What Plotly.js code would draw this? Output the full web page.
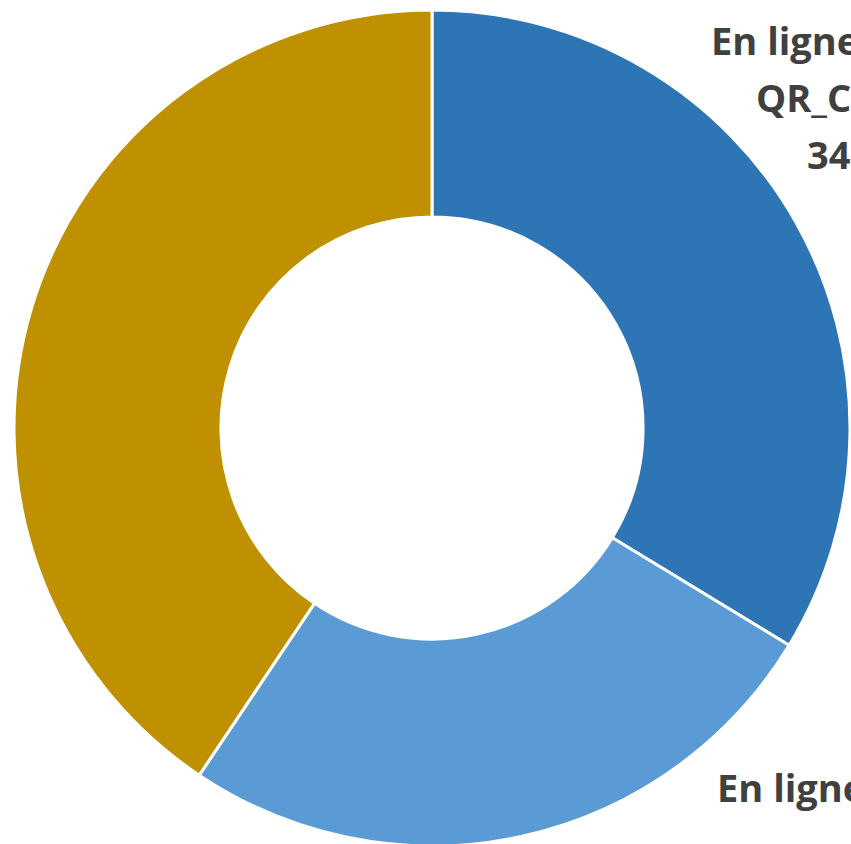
<!DOCTYPE html>
<html>
<head>
<meta charset="utf-8">
<script src="https://cdn.plot.ly/plotly-3.0.1.min.js"></script>
<style>
  html, body { margin: 0; padding: 0; overflow: hidden; background: #ffffff; }
  #chart { width: 851px; height: 860px; }
</style>
</head>
<body>
<div id="chart"></div>
<script>
// Data
const sliceLabels = ["En ligne avec QR_Code", "En ligne sans QR_Code", "Papier"];
const labelLines = [["En ligne avec", "QR_Code"], ["En ligne sans"], ["Papier"]];
const sliceValues = [33.7, 25.7, 40.6];
const sliceColors = ["#2E75B6", "#5B9BD5", "#BF9000"];

const W = 851, H = 860;
const total = sliceValues.reduce((a, b) => a + b, 0);
const pctText = sliceValues.map(v => Math.round(v / total * 100) + "%");

// left edge (px) of each visible line and vertical center of the first line
const labelPos = [
  { xs: [709, 754, 805], y0: 40, withPct: true },
  { xs: [715], y0: 787, withPct: false }
];
const lineStep = 57;

const annotations = [];
labelPos.forEach((p, i) => {
  const lines = p.withPct ? labelLines[i].concat([pctText[i]]) : labelLines[i];
  lines.forEach((t, k) => {
    annotations.push({
      text: t,
      xref: "paper", yref: "paper",
      x: p.xs[k] / W, y: 1 - (p.y0 + k * lineStep) / H,
      xanchor: "left", yanchor: "middle",
      showarrow: false,
      font: { family: "'Open Sans', sans-serif", size: 38, color: "#404040", weight: "bold" }
    });
  });
});

const trace = {
  type: "pie",
  labels: sliceLabels,
  values: sliceValues,
  sort: false,
  direction: "clockwise",
  rotation: 0,
  hole: 0.505,
  textinfo: "none",
  hoverinfo: "label+percent",
  marker: { colors: sliceColors, line: { color: "#ffffff", width: 3 } },
  domain: { x: [14 / W, 850 / W], y: [(H - 846) / H, (H - 10) / H] }
};

const layout = {
  width: W, height: H,
  margin: { l: 0, r: 0, t: 0, b: 0 },
  paper_bgcolor: "#ffffff",
  plot_bgcolor: "#ffffff",
  showlegend: false,
  annotations: annotations
};

Plotly.newPlot("chart", [trace], layout, { displayModeBar: false, staticPlot: true });
</script>
</body>
</html>
